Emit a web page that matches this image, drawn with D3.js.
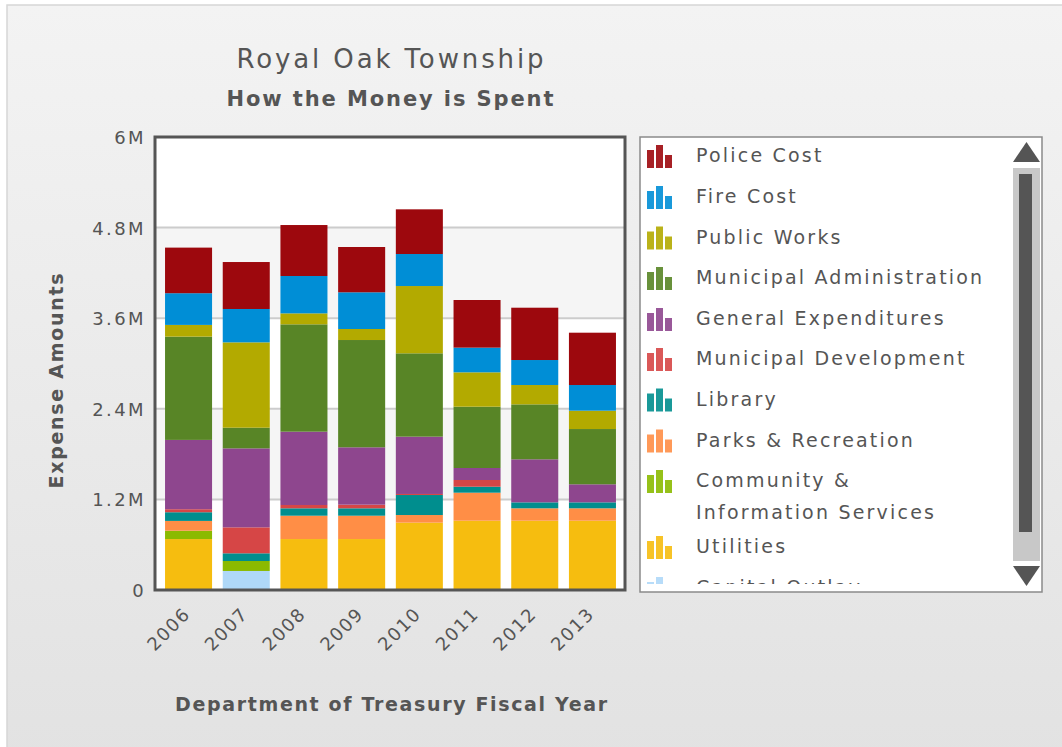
<!DOCTYPE html>
<html>
<head>
<meta charset="utf-8">
<script src="https://cdn.jsdelivr.net/npm/d3@7"></script>
<style>
  html, body { margin: 0; padding: 0; background: #ffffff; }
  svg { display: block; }
  text { font-family: "DejaVu Sans", Verdana, sans-serif; fill: #555555; }
</style>
</head>
<body>
<svg id="chart" width="1062" height="747"></svg>
<script>
// ---------- DATA ----------
const years = ["2006", "2007", "2008", "2009", "2010", "2011", "2012", "2013"];

const policeCost              = [604000, 622000, 675000, 600000, 592000, 631000, 693000, 693000];
const fireCost                = [420000, 442000, 495000, 486000, 424000, 327000, 331000, 340000];
const publicWorks             = [155000, 1130000, 145000, 146000, 891000, 455000, 256000, 243000];
const municipalAdministration = [1368000, 274000, 1422000, 1421000, 1104000, 812000, 728000, 732000];
const generalExpenditures     = [918000, 1046000, 971000, 760000, 759000, 159000, 570000, 239000];
const municipalDevelopment    = [40000, 344000, 44000, 48000, 14000, 89000, 0, 0];
const library                 = [115000, 102000, 98000, 98000, 265000, 79000, 79000, 79000];
const parksRecreation         = [130000, 0, 309000, 309000, 101000, 371000, 164000, 164000];
const communityInfoServices   = [110000, 132000, 0, 0, 0, 0, 0, 0];
const utilities               = [675000, 0, 675000, 675000, 892000, 918000, 918000, 918000];
const capitalOutlay           = [0, 252000, 0, 0, 0, 0, 0, 0];

// legend order (top to bottom); stacking is the reverse
const seriesNames = ["Police Cost", "Fire Cost", "Public Works", "Municipal Administration",
  "General Expenditures", "Municipal Development", "Library", "Parks & Recreation",
  "Community & Information Services", "Utilities", "Capital Outlay"];
const seriesValues = [policeCost, fireCost, publicWorks, municipalAdministration,
  generalExpenditures, municipalDevelopment, library, parksRecreation,
  communityInfoServices, utilities, capitalOutlay];
const seriesColors = ["#9D080D", "#008ED6", "#B3AA00", "#588526", "#8E468E", "#D64646",
  "#008E8E", "#FF8E46", "#8BBA00", "#F6BD0F", "#AFD8F8"];

const yTickValues = [0, 1200000, 2400000, 3600000, 4800000, 6000000];
const yTickLabels = ["0", "1.2M", "2.4M", "3.6M", "4.8M", "6M"];

// ---------- LAYOUT ----------
const svg = d3.select("#chart");
const plot = { left: 155, right: 625, top: 137, bottom: 590 };

const defs = svg.append("defs");
const bg = defs.append("linearGradient").attr("id", "bg").attr("x1", 0).attr("y1", 0).attr("x2", 0).attr("y2", 1);
bg.append("stop").attr("offset", "0%").attr("stop-color", "#f3f3f3");
bg.append("stop").attr("offset", "100%").attr("stop-color", "#e2e2e2");

svg.append("rect").attr("x", 7).attr("y", 5).attr("width", 1062).attr("height", 760)
  .attr("fill", "url(#bg)").attr("stroke", "#d6d6d6").attr("stroke-width", 1.5);

// scales
const x = d3.scaleBand().domain(years).range([159.7, 621.3]).paddingInner(0.185).paddingOuter(0.0925);
const y = d3.scaleLinear().domain([0, 6000000]).range([plot.bottom, plot.top]);

// plot background bands
svg.append("rect").attr("x", plot.left).attr("y", plot.top)
  .attr("width", plot.right - plot.left).attr("height", plot.bottom - plot.top).attr("fill", "#ffffff");
const bandPairs = d3.pairs(yTickValues);
svg.append("g").selectAll("rect").data(bandPairs).join("rect")
  .attr("x", plot.left).attr("width", plot.right - plot.left)
  .attr("y", d => y(d[1])).attr("height", d => y(d[0]) - y(d[1]))
  .attr("fill", (d, i) => i % 2 === 1 ? "#f5f5f5" : "#ffffff");

// grid lines
svg.append("g").selectAll("line").data(yTickValues.slice(1, -1)).join("line")
  .attr("x1", plot.left).attr("x2", plot.right)
  .attr("y1", d => y(d)).attr("y2", d => y(d))
  .attr("stroke", "#cccccc").attr("stroke-width", 2);

// stacked bars
const rows = years.map((yr, i) => {
  const o = { year: yr };
  seriesNames.forEach((n, k) => { o[n] = seriesValues[k][i]; });
  return o;
});
const stackKeys = seriesNames.slice().reverse();
const stacked = d3.stack().keys(stackKeys)(rows);
const colorOf = d3.scaleOrdinal().domain(seriesNames).range(seriesColors);

svg.append("g").selectAll("g").data(stacked).join("g")
  .attr("fill", d => colorOf(d.key))
  .selectAll("rect").data(d => d).join("rect")
  .attr("x", d => x(d.data.year))
  .attr("width", x.bandwidth())
  .attr("y", d => y(d[1]))
  .attr("height", d => Math.max(0, y(d[0]) - y(d[1])));

// plot frame
svg.append("rect").attr("x", plot.left).attr("y", plot.top)
  .attr("width", plot.right - plot.left).attr("height", plot.bottom - plot.top)
  .attr("fill", "none").attr("stroke", "#555555").attr("stroke-width", 3);

// y axis
const yAxis = d3.axisLeft(y).tickValues(yTickValues).tickSize(0).tickPadding(0)
  .tickFormat((d, i) => yTickLabels[i]);
const yg = svg.append("g").attr("transform", `translate(${plot.left - 9},0)`).call(yAxis);
yg.select(".domain").remove();
yg.selectAll("text").attr("font-size", 18).attr("letter-spacing", 2.4)
  .attr("font-family", "DejaVu Sans").attr("fill", "#555555").attr("dy", "0.36em");

// x axis
const xAxis = d3.axisBottom(x).tickSize(0).tickPadding(0);
const xg = svg.append("g").attr("transform", `translate(0,${plot.bottom})`).call(xAxis);
xg.select(".domain").remove();
xg.selectAll("text")
  .attr("font-size", 18).attr("letter-spacing", 1.6)
  .attr("font-family", "DejaVu Sans").attr("fill", "#555555")
  .attr("text-anchor", "end")
  .attr("dy", 0)
  .attr("transform", "translate(3,25) rotate(-45)");

// titles
svg.append("text").attr("x", 390).attr("y", 68).attr("text-anchor", "middle")
  .attr("font-size", 26).attr("textLength", 307).attr("lengthAdjust", "spacing")
  .text("Royal Oak Township");
svg.append("text").attr("x", 390).attr("y", 106).attr("text-anchor", "middle")
  .attr("font-size", 21).attr("font-weight", "bold").attr("textLength", 327).attr("lengthAdjust", "spacing")
  .text("How the Money is Spent");
svg.append("text").attr("x", 391).attr("y", 711).attr("text-anchor", "middle")
  .attr("font-size", 19).attr("font-weight", "bold").attr("textLength", 432).attr("lengthAdjust", "spacing")
  .text("Department of Treasury Fiscal Year");
svg.append("text").attr("transform", "translate(63,381) rotate(-90)").attr("text-anchor", "middle")
  .attr("font-size", 19).attr("font-weight", "bold").attr("textLength", 215).attr("lengthAdjust", "spacing")
  .text("Expense Amounts");

// legend
const lg = { x: 640, y: 137, w: 402, h: 455 };
svg.append("rect").attr("x", lg.x).attr("y", lg.y).attr("width", lg.w).attr("height", lg.h)
  .attr("fill", "#ffffff").attr("stroke", "#8a8a8a").attr("stroke-width", 1.5);
defs.append("clipPath").attr("id", "legclip").append("rect")
  .attr("x", lg.x).attr("y", lg.y + 2).attr("width", lg.w).attr("height", 445);

const baselines = [162, 203, 243.5, 284, 325, 365, 405.5, 446.5, 487, 553, 594];
const legendG = svg.append("g").attr("clip-path", "url(#legclip)");
const items = legendG.selectAll("g").data(seriesNames).join("g")
  .attr("transform", (d, i) => `translate(0,${baselines[i]})`);
const iconBars = [{ dx: 647, h: 18 }, { dx: 656, h: 23 }, { dx: 665, h: 13 }];
items.each(function (name, i) {
  const g = d3.select(this);
  g.selectAll("rect").data(iconBars).join("rect")
    .attr("x", b => b.dx).attr("width", 7)
    .attr("y", b => 6 - b.h).attr("height", b => b.h)
    .attr("fill", seriesColors[i]).attr("opacity", 0.9);
  const t = g.append("text").attr("x", 696).attr("y", 0)
    .attr("font-size", 19).attr("letter-spacing", 2.2).attr("fill", "#555555");
  if (name === "Community & Information Services") {
    t.append("tspan").attr("x", 696).attr("dy", 0).text("Community &");
    t.append("tspan").attr("x", 696).attr("dy", 32).text("Information Services");
  } else {
    t.text(name);
  }
});

// scroll bar
svg.append("path").attr("d", "M1013,162 L1040,162 L1026.5,142 Z").attr("fill", "#555555");
svg.append("rect").attr("x", 1013).attr("y", 168).attr("width", 27).attr("height", 393).attr("fill", "#c8c8c8");
svg.append("rect").attr("x", 1019).attr("y", 174).attr("width", 13).attr("height", 358).attr("fill", "#555555");
svg.append("path").attr("d", "M1013,566 L1040,566 L1026.5,586 Z").attr("fill", "#555555");
</script>
</body>
</html>
